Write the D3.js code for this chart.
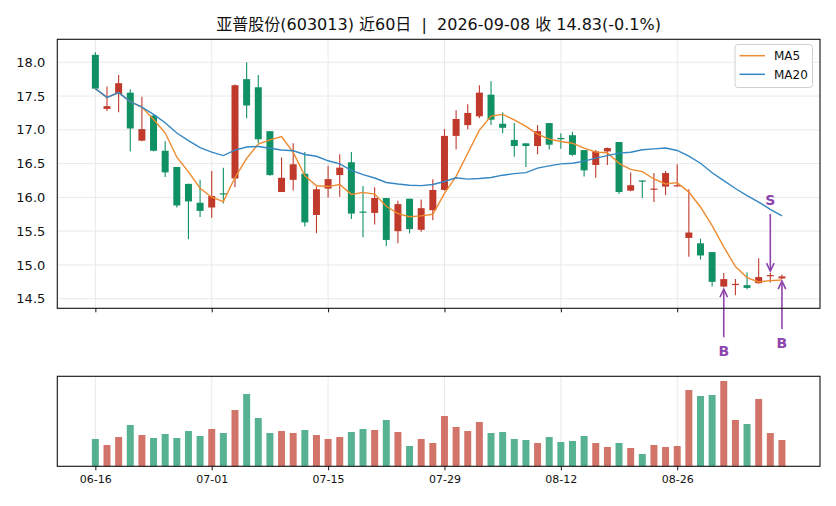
<!DOCTYPE html>
<html>
<head>
<meta charset="utf-8">
<script src="https://cdn.jsdelivr.net/npm/d3@7/dist/d3.min.js"></script>
<style>
  html, body { margin: 0; padding: 0; background: #fff; }
  svg { display: block; font-family: "DejaVu Sans", "Noto Sans CJK SC", sans-serif; }
  .pre { white-space: pre; }
</style>
</head>
<body>
<svg id="chart" width="836" height="506"></svg>
<script>
// ---------------- data ----------------
const dates = ["06-16","06-17","06-18","06-22","06-23","06-24","06-25","06-26","06-29","06-30",
  "07-01","07-02","07-03","07-06","07-07","07-08","07-09","07-10","07-13","07-14",
  "07-15","07-16","07-17","07-20","07-21","07-22","07-23","07-24","07-27","07-28",
  "07-29","07-30","07-31","08-03","08-04","08-05","08-06","08-07","08-10","08-11",
  "08-12","08-13","08-14","08-17","08-18","08-19","08-20","08-21","08-24","08-25",
  "08-26","08-27","08-28","08-31","09-01","09-02","09-03","09-04","09-07","09-08"];
const openP  = [18.11,17.31,17.53,17.55,16.84,17.21,16.69,16.45,16.20,15.92,
  15.85,16.06,16.28,17.75,17.63,16.98,16.08,16.26,16.35,15.74,
  16.13,16.33,16.52,15.79,15.77,15.99,15.50,15.98,15.52,15.81,
  16.11,16.91,17.07,17.20,17.52,17.09,16.85,16.80,16.76,17.10,
  16.88,16.92,16.70,16.48,16.68,16.82,16.10,16.25,16.12,16.16,
  16.17,15.40,15.32,15.19,14.68,14.71,14.70,14.73,14.84,14.80];
const highP  = [18.15,17.64,17.81,17.60,17.49,17.23,16.83,16.45,16.20,16.26,
  16.39,16.44,17.67,18.00,17.81,16.98,16.59,16.80,16.67,16.16,
  16.47,16.64,16.67,16.17,16.15,15.99,15.95,15.98,15.97,16.27,
  17.01,17.29,17.38,17.66,17.72,17.26,17.10,16.80,17.07,17.10,
  16.95,16.97,16.70,16.70,16.74,16.82,16.37,16.25,16.36,16.39,
  16.49,16.12,15.39,15.19,14.88,14.79,14.89,15.10,14.88,14.86];
const lowP   = [17.60,17.28,17.26,16.68,16.83,16.68,16.30,15.85,15.38,15.71,
  15.70,15.91,16.15,17.17,16.80,16.32,16.08,16.10,15.57,15.47,
  16.00,16.01,15.68,15.41,15.60,15.28,15.32,15.47,15.49,15.66,
  16.10,16.71,17.01,17.17,17.07,16.95,16.60,16.45,16.64,16.71,
  16.72,16.61,16.31,16.29,16.48,16.05,16.09,15.99,15.93,16.03,
  16.16,15.12,15.08,14.68,14.67,14.55,14.64,14.72,14.74,14.79];
const closeP = [17.61,17.35,17.69,17.02,17.01,16.69,16.37,15.88,15.94,15.80,
  16.02,16.05,17.66,17.36,16.86,16.33,16.29,16.49,15.63,16.12,
  16.27,16.44,15.76,15.78,15.99,15.37,15.90,15.53,15.84,16.11,
  16.91,17.16,17.25,17.55,17.15,17.03,16.76,16.76,16.98,16.78,
  16.86,16.63,16.40,16.68,16.73,16.08,16.18,16.24,16.13,16.36,
  16.18,15.48,15.14,14.75,14.79,14.72,14.66,14.82,14.85,14.83];
const volume = [273,213,293,413,313,283,323,283,353,303,
  373,333,563,723,483,333,353,333,363,313,
  273,293,343,373,363,463,343,203,273,233,
  503,393,353,443,333,343,273,263,233,293,
  243,253,303,233,193,233,183,123,213,193,
  203,763,703,713,853,463,423,673,333,263];
const yTicks = [14.5,15.0,15.5,16.0,16.5,17.0,17.5,18.0];
const xTickIdx = [0,10,20,30,40,50];
const buySignals = [54,59];
const sellSignals = [58];
const titleText = "亚普股份(603013) 近60日  |  2026-09-08 收 14.83(-0.1%)";

// moving averages (rolling mean, min_periods = 1)
function rollingMean(arr, n) {
  return arr.map((_, i) => d3.mean(arr.slice(Math.max(0, i - n + 1), i + 1)));
}
const ma5 = rollingMean(closeP, 5);
const ma20 = rollingMean(closeP, 20);

// ---------------- layout ----------------
const C = { red: "#c0392b", green: "#0f9163", ma5: "#ee8a2f", ma20: "#3587c3", sig: "#8e44ad", grid: "#e9e9e9" };
const FONT = "DejaVu Sans, Noto Sans CJK SC, sans-serif";
const L = 57.3, R = 820;
const mainTop = 39.3, mainBot = 308.3;
const volTop = 376.3, volBot = 466.3;

const svg = d3.select("#chart");
const x = d3.scaleLinear().domain([-3.27, 62.27]).range([L, R]);
const y = d3.scaleLinear().domain([14.358, 18.34]).range([mainBot, mainTop]);
const yv = d3.scaleLinear().domain([0, d3.max(volume) * 1.055]).range([volBot, volTop]);
const bw = (x(1) - x(0)) * 0.6;
const isUp = i => closeP[i] >= openP[i];

// title
svg.append("text").attr("class", "pre").attr("x", (L + R) / 2).attr("y", 29.5).attr("text-anchor", "middle")
  .attr("font-size", 16).attr("fill", "#111").text(titleText);

// ---- main panel grid
const gMain = svg.append("g");
gMain.append("g").selectAll("line").data(yTicks).join("line")
  .attr("x1", L).attr("x2", R).attr("y1", d => y(d)).attr("y2", d => y(d))
  .attr("stroke", C.grid).attr("stroke-width", 1);
gMain.append("g").selectAll("line").data(xTickIdx).join("line")
  .attr("x1", d => x(d)).attr("x2", d => x(d)).attr("y1", mainTop).attr("y2", mainBot)
  .attr("stroke", C.grid).attr("stroke-width", 1);

// y axis labels via d3 axis
const yAxis = d3.axisLeft(y).tickValues(yTicks).tickFormat(d3.format(".1f")).tickSize(0).tickPadding(12);
const gy = svg.append("g").attr("transform", `translate(${L},0)`).call(yAxis);
gy.select(".domain").remove();
gy.selectAll("text").attr("font-size", 13).attr("fill", "#111").attr("font-family", FONT);

// x axis ticks on main (no labels)
const xAxisMain = d3.axisBottom(x).tickValues(xTickIdx).tickFormat("").tickSize(4);
const gxm = svg.append("g").attr("transform", `translate(0,${mainBot})`).call(xAxisMain);
gxm.select(".domain").remove();
gxm.selectAll("line").attr("stroke", "#111");

// candles
const gC = svg.append("g");
const idx = d3.range(closeP.length);
gC.selectAll("line.wick").data(idx).join("line").attr("class", "wick")
  .attr("x1", i => x(i)).attr("x2", i => x(i))
  .attr("y1", i => y(highP[i])).attr("y2", i => y(lowP[i]))
  .attr("stroke", i => isUp(i) ? C.red : C.green).attr("stroke-width", 1.1);
gC.selectAll("rect.body").data(idx).join("rect").attr("class", "body")
  .attr("x", i => x(i) - bw / 2).attr("width", bw)
  .attr("y", i => y(Math.max(openP[i], closeP[i])))
  .attr("height", i => Math.max(1.2, Math.abs(y(openP[i]) - y(closeP[i]))))
  .attr("fill", i => isUp(i) ? C.red : C.green);

// MA lines
const line = arr => d3.line().x((d, i) => x(i)).y(d => y(d))(arr);
svg.append("path").attr("d", line(ma5)).attr("fill", "none").attr("stroke", C.ma5).attr("stroke-width", 1.4);
svg.append("path").attr("d", line(ma20)).attr("fill", "none").attr("stroke", C.ma20).attr("stroke-width", 1.4);

// signals
const gS = svg.append("g").attr("stroke", C.sig).attr("fill", "none").attr("stroke-width", 1.6);
function arrow(x0, yTail, yTip) {
  const dir = yTip < yTail ? 1 : -1; // 1 = pointing up
  gS.append("line").attr("x1", x0).attr("x2", x0).attr("y1", yTail).attr("y2", yTip);
  gS.append("polyline").attr("points",
    `${x0 - 3.8},${yTip + dir * 8} ${x0},${yTip} ${x0 + 3.8},${yTip + dir * 8}`);
}
buySignals.forEach(i => {
  const yl = y(lowP[i]);
  arrow(x(i), yl + 50, yl + 2);
  svg.append("text").attr("x", x(i)).attr("y", yl + 63.5).attr("dy", "0.36em")
    .attr("text-anchor", "middle").attr("font-size", 14).attr("font-weight", "bold")
    .attr("fill", C.sig).text("B");
});
sellSignals.forEach(i => {
  const yh = y(highP[i]);
  arrow(x(i), yh - 59, yh - 2);
  svg.append("text").attr("x", x(i)).attr("y", yh - 73).attr("dy", "0.36em")
    .attr("text-anchor", "middle").attr("font-size", 14).attr("font-weight", "bold")
    .attr("fill", C.sig).text("S");
});

// main frame
svg.append("rect").attr("x", L).attr("y", mainTop).attr("width", R - L).attr("height", mainBot - mainTop)
  .attr("fill", "none").attr("stroke", "#111").attr("stroke-width", 1.1);

// legend
const lg = svg.append("g");
lg.append("rect").attr("x", 735).attr("y", 44.5).attr("width", 77.5).attr("height", 43)
  .attr("rx", 3).attr("fill", "rgba(255,255,255,0.85)").attr("stroke", "#d0d0d0").attr("stroke-width", 1);
[["MA5", C.ma5, 55.7], ["MA20", C.ma20, 74.3]].forEach(([t, c, yy]) => {
  lg.append("line").attr("x1", 739.5).attr("x2", 765).attr("y1", yy).attr("y2", yy)
    .attr("stroke", c).attr("stroke-width", 1.5);
  lg.append("text").attr("x", 774).attr("y", yy).attr("dy", "0.36em")
    .attr("font-size", 12).attr("fill", "#111").text(t);
});

// ---- volume panel
svg.append("g").selectAll("line").data(xTickIdx).join("line")
  .attr("x1", d => x(d)).attr("x2", d => x(d)).attr("y1", volTop).attr("y2", volBot)
  .attr("stroke", C.grid).attr("stroke-width", 1);
svg.append("g").selectAll("rect").data(idx).join("rect")
  .attr("x", i => x(i) - bw / 2).attr("width", bw)
  .attr("y", i => yv(volume[i])).attr("height", i => yv(0) - yv(volume[i]))
  .attr("fill", i => isUp(i) ? C.red : C.green).attr("fill-opacity", 0.7);
const xAxisVol = d3.axisBottom(x).tickValues(xTickIdx).tickFormat(i => dates[i]).tickSize(4).tickPadding(5);
const gxv = svg.append("g").attr("transform", `translate(0,${volBot})`).call(xAxisVol);
gxv.select(".domain").remove();
gxv.selectAll("line").attr("stroke", "#111");
gxv.selectAll("text").attr("font-size", 11).attr("fill", "#111").attr("font-family", FONT);
svg.append("rect").attr("x", L).attr("y", volTop).attr("width", R - L).attr("height", volBot - volTop)
  .attr("fill", "none").attr("stroke", "#111").attr("stroke-width", 1.1);
</script>
</body>
</html>
